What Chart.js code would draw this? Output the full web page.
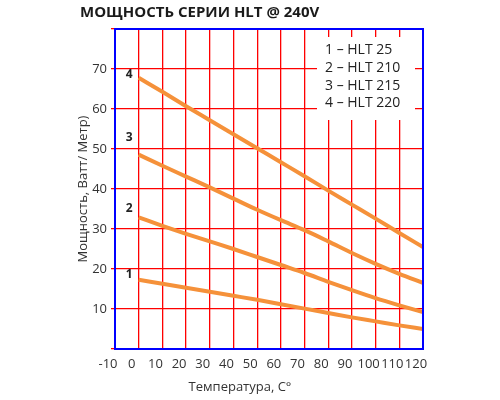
<!DOCTYPE html>
<html>
<head>
<meta charset="utf-8">
<script src="https://cdn.jsdelivr.net/npm/chart.js@4.4.1/dist/chart.umd.min.js"></script>
<style>
  body { margin: 0; background: #fff; }
</style>
</head>
<body>
<canvas id="power" width="500" height="400"></canvas>
<script>
// temperature, C
var temps = [0, 10, 20, 30, 40, 50, 60, 70, 80, 90, 100, 110, 120];
// watt per metre
var hlt25  = [17.3, 16.3, 15.3, 14.3, 13.3, 12.3, 11.2, 10.1, 9.0, 7.9, 6.9, 5.9, 5.0];
var hlt210 = [32.9, 30.8, 28.8, 26.9, 25.0, 23.0, 21.0, 19.0, 16.8, 14.7, 12.7, 10.9, 9.2];
var hlt215 = [48.6, 45.8, 43.1, 40.4, 37.6, 34.8, 32.2, 29.7, 26.9, 24.0, 21.3, 18.8, 16.5];
var hlt220 = [67.8, 64.3, 60.7, 57.2, 53.7, 50.2, 46.7, 43.2, 39.6, 36.1, 32.6, 29.0, 25.5];

var seriesNames = ['HLT 25', 'HLT 210', 'HLT 215', 'HLT 220'];
var seriesNums = ['1', '2', '3', '4'];
// where the small numbers sit next to each line start (x, y in data units)
var numX = -4;
var numY = [18.6, 35.1, 52.8, 68.7];

var orange = '#f5913a';
var gridColor = 'red';
var font = '"Open Sans", "DejaVu Sans", sans-serif';

function toPoints(vals) {
  return temps.map(function (t, i) { return { x: t, y: vals[i] }; });
}

var allSeries = [hlt25, hlt210, hlt215, hlt220];
var mydatasets = allSeries.map(function (vals, i) {
  return {
    label: seriesNames[i],
    data: toPoints(vals),
    borderColor: orange,
    borderWidth: 4,
    pointRadius: 0,
    cubicInterpolationMode: 'monotone',
    fill: false
  };
});

// frame, key box, line numbers, titles
var extras = {
  id: 'extras',
  afterDraw: function (chart) {
    var ctx = chart.ctx;
    var a = chart.chartArea;
    ctx.save();

    ctx.strokeStyle = 'blue';
    ctx.lineWidth = 2;
    ctx.strokeRect(Math.round(a.left), Math.round(a.top), Math.round(a.right - a.left), Math.round(a.bottom - a.top));

    ctx.fillStyle = '#fff';
    ctx.fillRect(a.right - 106, a.top + 8, 98, 83);
    ctx.fillStyle = '#222';
    ctx.font = '14px ' + font;
    ctx.textBaseline = 'middle';
    ctx.textAlign = 'left';
    seriesNames.forEach(function (n, i) {
      ctx.fillText(seriesNums[i] + ' \u2013 ' + n, a.right - 98, a.top + 21 + i * 17.8);
    });

    var xs = chart.scales.x, ys = chart.scales.y;
    ctx.font = 'bold 12px ' + font;
    ctx.textAlign = 'center';
    seriesNums.forEach(function (n, i) {
      ctx.fillText(n, xs.getPixelForValue(numX), ys.getPixelForValue(numY[i]));
    });

    ctx.fillStyle = '#333';
    ctx.font = '13px ' + font;
    ctx.fillText('Температура, С°', 240, 387);

    ctx.fillStyle = '#1a1a1a';
    ctx.font = 'bold 15px ' + font;
    ctx.textAlign = 'left';
    ctx.fillText('МОЩНОСТЬ СЕРИИ HLT @ 240V', 80, 13);
    ctx.restore();
  }
};

var config = {
  type: 'line',
  data: { datasets: mydatasets },
  options: {
    responsive: false,
    animation: false,
    layout: { padding: { left: 0, right: 77, top: 29, bottom: 0 } },
    plugins: {
      legend: { display: false },
      tooltip: { enabled: false },
      title: { display: false }
    },
    scales: {
      x: {
        type: 'linear',
        min: -10,
        max: 120,
        afterFit: function (scale) { scale.height = 51; },
        ticks: {
          stepSize: 10,
          color: '#333',
          padding: 7,
          labelOffset: -7,
          maxRotation: 0,
          autoSkip: false,
          font: { family: font, size: 13 }
        },
        grid: {
          color: gridColor,
          lineWidth: 1.3,
          drawTicks: false
        },
        border: { color: '#1a1a1a', width: 2 }
      },
      y: {
        min: 0,
        max: 80,
        afterFit: function (scale) { scale.width = 115; },
        ticks: {
          stepSize: 10,
          color: '#333',
          padding: 4,
          font: { family: font, size: 13 },
          callback: function (v) { return (v === 0 || v === 80) ? '' : v; }
        },
        grid: {
          color: gridColor,
          lineWidth: 1.3,
          tickLength: 4
        },
        border: { color: '#1a1a1a', width: 2 },
        title: {
          display: true,
          text: 'Мощность, Ватт/ Метр)',
          color: '#333',
          font: { family: font, size: 13 },
          padding: { top: 75, bottom: 0 }
        }
      }
    }
  },
  plugins: [extras]
};

var ctx1 = document.getElementById('power');
var myChart1 = new Chart(ctx1, config);
</script>
</body>
</html>
